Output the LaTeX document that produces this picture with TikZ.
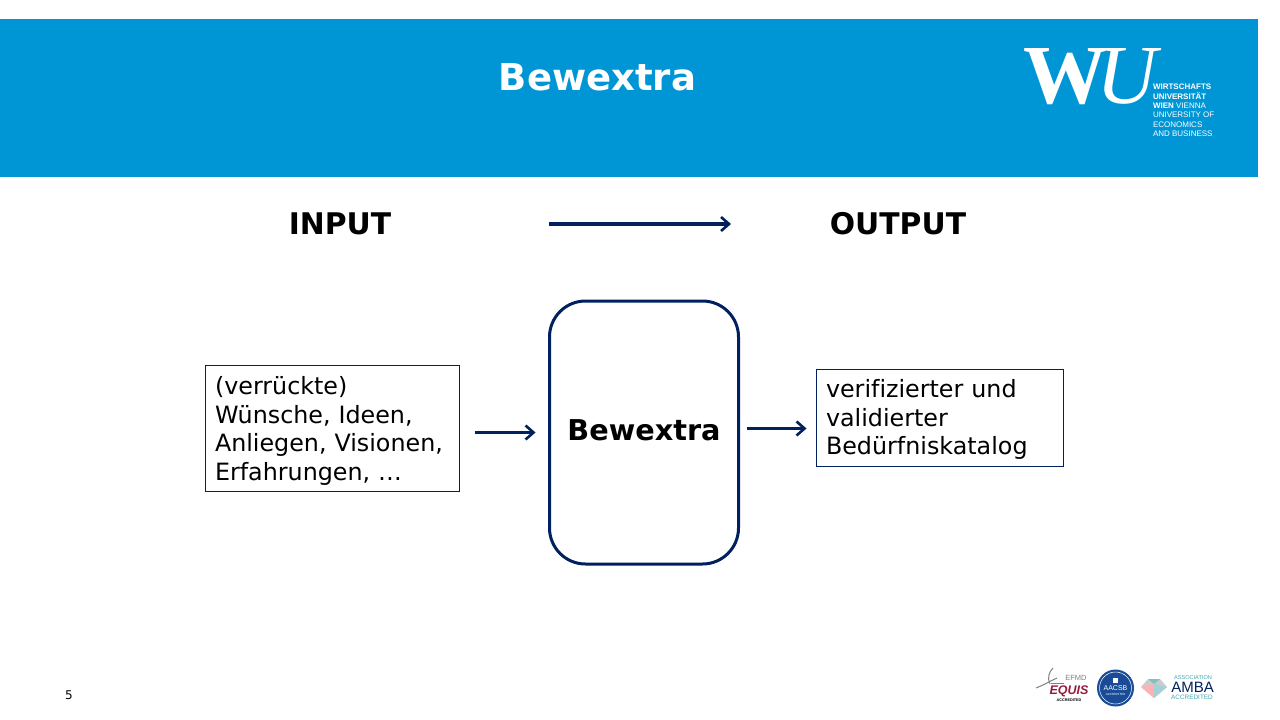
\documentclass[tikz,border=0pt]{standalone}
\usepackage{fontspec}
\setmainfont[Ligatures=NoCommon]{DejaVu Sans}
\newfontfamily\logoserif{Liberation Serif}
\newfontfamily\logosans{Liberation Sans}
\usetikzlibrary{arrows.meta,calc,positioning}
\definecolor{wublue}{RGB}{0,150,214}
\definecolor{wunavy}{RGB}{0,32,96}
\definecolor{amsteal}{RGB}{70,165,175}
\definecolor{eqred}{RGB}{150,25,60}
\definecolor{aacblue}{RGB}{25,75,150}

\begin{document}
\begin{tikzpicture}[x=1pt,y=-1pt,
  every node/.style={inner sep=0pt,outer sep=0pt},
  heading/.style={font=\fontsize{29.8}{36}\selectfont\bfseries},
  textbox/.style={draw=wunavy,line width=1pt,rectangle,align=left,anchor=west,
    inner xsep=9.5pt,font=\fontsize{23.8}{28.4}\selectfont},
  corebox/.style={draw=wunavy,line width=3pt,rectangle,rounded corners=36pt,
    minimum width=189pt,minimum height=263pt,font=\fontsize{28.7}{36}\selectfont\bfseries},
  flow/.style={draw=wunavy,line width=3pt,-{Straight Barb[length=8pt,width=14pt,line width=2.6pt]}},
  logotext/.style={text=white,anchor=west,font=\logosans\fontsize{8}{9}\selectfont},
  acctext/.style={font=\logosans\fontsize{5}{6}\selectfont}]

  \useasboundingbox (0,0) rectangle (1280,720);
  \fill[wublue] (0,19) rectangle (1258,177);

  \node (title) [text=white,font=\fontsize{37}{42}\selectfont\bfseries] at (597.5,77) {Bewextra};

  % logo top right
  \node (logoW) [text=white,font=\logoserif\bfseries\fontsize{84}{84}\selectfont,anchor=base west] at (1023,103.5) {W};
  \node (logoU) [text=white,font=\logoserif\itshape\fontsize{84}{84}\selectfont,anchor=base west] at (1096,103.5) {U};
  \node (logoA) [logotext] at (1153,86.5) {\bfseries WIRTSCHAFTS};
  \node (logoB) [logotext] at (1153,96) {\bfseries UNIVERSITÄT};
  \node (logoC) [logotext] at (1153,105.5) {\textbf{WIEN} VIENNA};
  \node (logoD) [logotext] at (1153,115) {UNIVERSITY OF};
  \node (logoE) [logotext] at (1153,124.5) {ECONOMICS};
  \node (logoF) [logotext] at (1153,134) {AND BUSINESS};

  \node (input) [heading] at (340,224) {INPUT};
  \node (output) [heading] at (898,224) {OUTPUT};
  \coordinate (headstart) at (549,224);
  \coordinate (headend) at (731,224);
  \draw[flow,line width=3.6pt] (headstart) -- (headend);

  \node (core) [corebox] at (644,432.5) {\raisebox{4pt}{Bewextra}};
  \node (inbox) [textbox,text width=235pt,minimum height=126pt] at (205.5,428.5)
    {\rule{0pt}{23pt}(verrückte)\\Wünsche, Ideen,\\Anliegen, Visionen,\\Erfahrungen, …};
  \node (outbox) [textbox,text width=228pt,minimum height=97pt] at (816.5,418)
    {\rule{0pt}{21pt}verifizierter\ und\\validierter\\Bedürfniskatalog};

  \draw[flow,shorten <=15pt,shorten >=14pt] (inbox.east |- core.west) -- (core.west);
  \coordinate (outstart) at ($(core.east)+(0,-4)$);
  \draw[flow,shorten <=8pt,shorten >=10pt] (outstart) -- (outstart -| outbox.west);

  \node (pagenr) [font=\fontsize{12}{14}\selectfont] at (69,695.5) {5};

  % EQUIS
  \draw[gray,line width=1pt] (1036,688) .. controls (1046,684) and (1052,680) .. (1057,678);
  \draw[gray,line width=1pt] (1050,684) .. controls (1047,678) and (1049,672) .. (1053,668);
  \draw[gray,line width=.7pt] (1051,683) -- (1064,683);
  \node (efmd) [text=gray,font=\logosans\fontsize{7.5}{9}\selectfont] at (1076,678) {EFMD};
  \node (equis) [text=eqred,font=\logosans\bfseries\itshape\fontsize{12.5}{14}\selectfont] at (1069,691) {EQUIS};
  \node (equisacc) [acctext,font=\logosans\bfseries\fontsize{3.8}{5}\selectfont] at (1069,700) {ACCREDITED};

  % AACSB
  \node (aacsb) [circle,fill=aacblue,minimum size=37pt] at (1115.5,688) {};
  \node (aacsbname) [text=white,font=\logosans\fontsize{7}{8}\selectfont] at (1115.5,688) {AACSB};
  \node (aacsbacc) [text=white,font=\logosans\fontsize{3}{4}\selectfont] at (1115.5,694.5) {ACCREDITED};
  \draw[white,line width=.5pt] (1115.5,688) circle (16);
  \fill[white] (1113,678) rectangle (1118,683);

  % AMBA
  \fill[gray!40] (1141,687) -- (1148,679) -- (1160,679) -- (1167,687) -- (1154,698) -- cycle;
  \fill[amsteal!70] (1148,679) -- (1154,684) -- (1160,679) -- cycle;
  \fill[red!30] (1141,687) -- (1154,684) -- (1154,698) -- cycle;
  \fill[amsteal!50] (1154,684) -- (1167,687) -- (1154,698) -- cycle;
  \node (amba) [text=wunavy,font=\logosans\fontsize{15}{16}\selectfont] at (1192.5,687) {AMBA};
  \node (ambaass) [text=amsteal,font=\logosans\fontsize{5.6}{6}\selectfont] at (1193,678) {ASSOCIATION};
  \node (ambaacc) [text=amsteal,font=\logosans\fontsize{6.4}{7}\selectfont] at (1192,697.5) {ACCREDITED};
\end{tikzpicture}
\end{document}
